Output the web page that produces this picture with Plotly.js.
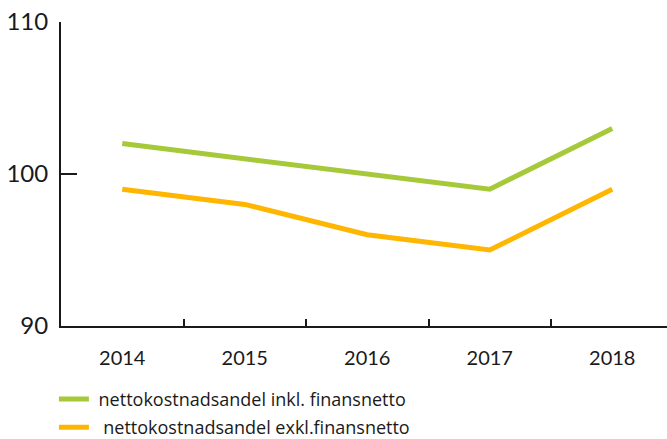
<!DOCTYPE html>
<html>
<head>
<meta charset="utf-8">
<script src="https://cdn.plot.ly/plotly-3.0.1.min.js"></script>
<style>html,body{margin:0;padding:0;background:#fff;}#chart{width:667px;height:439px;}</style>
</head>
<body>
<div id="chart"></div>
<script>
const years = ["2014", "2015", "2016", "2017", "2018"];
const inklFinansnetto = [102, 101, 100, 99, 103];
const exklFinansnetto = [99, 98, 96, 95, 99];
const seriesNames = [" nettokostnadsandel inkl. finansnetto", "  nettokostnadsandel exkl.finansnetto"];
const yTicks = [90, 100, 110];

const traces = [
  {x: years, y: inklFinansnetto, name: seriesNames[0], type: "scatter", mode: "lines",
   line: {color: "#a6c93a", width: 5}, legend: "legend"},
  {x: years, y: exklFinansnetto, name: seriesNames[1], type: "scatter", mode: "lines",
   line: {color: "#ffb600", width: 5}, legend: "legend2"}
];

const legendCommon = {xanchor: "left", yanchor: "middle", orientation: "v",
  font: {size: 18, color: "#1a1a1a", family: "'Open Sans', sans-serif"}, bgcolor: "rgba(0,0,0,0)"};

const layout = {
  width: 667, height: 439,
  margin: {l: 61, r: 0, t: 21.5, b: 112.5, pad: 0, autoexpand: false},
  paper_bgcolor: "#fff", plot_bgcolor: "#fff",
  font: {family: "Lato, 'Open Sans', sans-serif", color: "#1a1a1a"},
  showlegend: true,
  legend: Object.assign({x: -0.0117, y: -(400 - 326.5) / 305}, legendCommon),
  legend2: Object.assign({x: -0.0117, y: -(428.5 - 326.5) / 305}, legendCommon),
  xaxis: {
    type: "category", range: [-0.5, 4.447], showgrid: false, zeroline: false,
    showline: true, linecolor: "#1a1a1a", linewidth: 2,
    ticks: "inside", tickson: "boundaries", ticklen: 7, tickwidth: 2, tickcolor: "#1a1a1a",
    tickfont: {size: 20}, ticklabelstandoff: 13
  },
  yaxis: {
    range: [90, 110], tickvals: yTicks, ticktext: yTicks.map(String),
    showgrid: false, zeroline: false, showline: true, linecolor: "#1a1a1a", linewidth: 2,
    ticks: "inside", ticklen: 16, tickwidth: 2, tickcolor: "#1a1a1a",
    tickfont: {size: 24}, ticklabelstandoff: 6
  }
};

Plotly.newPlot("chart", traces, layout, {displayModeBar: false, staticPlot: true});
</script>
</body>
</html>
